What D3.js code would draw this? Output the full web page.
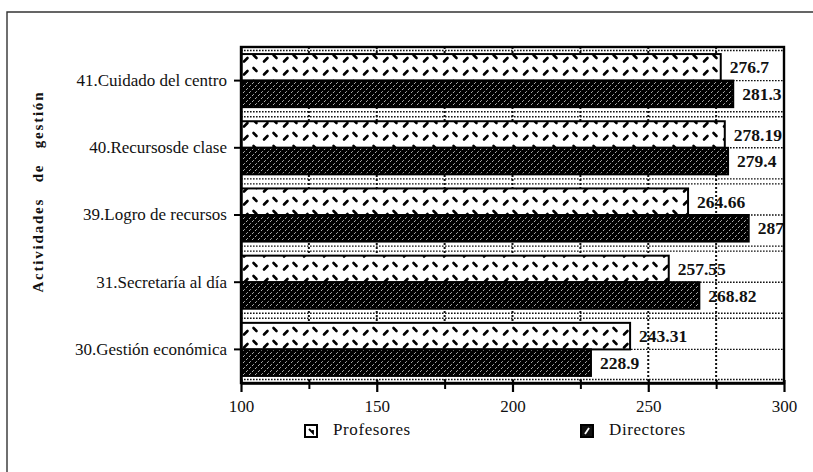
<!DOCTYPE html>
<html>
<head>
<meta charset="utf-8">
<script src="https://cdn.jsdelivr.net/npm/d3@7"></script>
<style>
  html, body { margin: 0; padding: 0; background: #fff; }
  svg { display: block; }
  text { font-family: "Liberation Serif", "Times New Roman", serif; fill: #111; }
</style>
</head>
<body>
<svg id="chart" width="813" height="472"></svg>
<script>
// Management activities: mean scores by respondent group
const categories = [
  "41.Cuidado del centro",
  "40.Recursosde clase",
  "39.Logro de recursos",
  "31.Secretaría al día",
  "30.Gestión económica"
];
const series = ["Profesores", "Directores"];
const profesores = [276.7, 278.19, 264.66, 257.55, 243.31];
const directores = [281.3, 279.4, 287, 268.82, 228.9];
const xTicks = [100, 150, 200, 250, 300];
const yTitle = "Actividades de gestión";

const svg = d3.select("#chart");
const W = 813, H = 472;
const plot = { left: 241, right: 784, top: 47, bottom: 383 };
const serif = "'Liberation Serif', 'Times New Roman', serif";

const x = d3.scaleLinear().domain([xTicks[0], xTicks[xTicks.length - 1]]).range([plot.left, plot.right]);
const y = d3.scaleBand().domain(categories).range([plot.top, plot.bottom])
  .paddingInner(0.21).paddingOuter(0.105);
const sub = d3.scaleBand().domain(series).range([0, y.bandwidth()]);
const minorTicks = d3.pairs(xTicks).map(([a, b]) => (a + b) / 2);
const gridTicks = d3.merge([xTicks.slice(1, -1), minorTicks]);

// fill patterns
const defs = svg.append("defs");
const pProf = defs.append("pattern").attr("id", "pat-prof")
  .attr("patternUnits", "userSpaceOnUse").attr("width", 20).attr("height", 13);
pProf.append("rect").attr("width", 20).attr("height", 13).attr("fill", "#fff");
pProf.append("path").attr("d", "M4,9.5 L7.5,6").attr("stroke", "#000").attr("stroke-width", 2.6).attr("stroke-linecap", "round");
pProf.append("path").attr("d", "M13.5,3 L16.5,6").attr("stroke", "#000").attr("stroke-width", 2.6).attr("stroke-linecap", "round");

const pDir = defs.append("pattern").attr("id", "pat-dir")
  .attr("patternUnits", "userSpaceOnUse").attr("width", 6).attr("height", 6);
pDir.append("rect").attr("width", 6).attr("height", 6).attr("fill", "#000");
pDir.append("path").attr("d", "M0,6 L6,0").attr("stroke", "#fff").attr("stroke-width", 0.7).attr("stroke-dasharray", "2.6 1.6");
pDir.append("path").attr("d", "M-1,1 L1,-1 M5,7 L7,5").attr("stroke", "#fff").attr("stroke-width", 0.7);

const fills = { Profesores: "url(#pat-prof)", Directores: "url(#pat-dir)" };

// outer frame
svg.append("path").attr("d", `M7,${H} L7,12 L${W},12`)
  .attr("fill", "none").attr("stroke", "#333").attr("stroke-width", 1.4);

// rows: one entry per category and series
const rows = categories.flatMap((c, i) => [
  { cat: c, s: "Profesores", v: profesores[i] },
  { cat: c, s: "Directores", v: directores[i] }
]);

// value labels (beneath the grid)
svg.append("g").selectAll("text").data(rows).join("text")
  .attr("x", d => x(d.v) + 9)
  .attr("y", d => y(d.cat) + sub(d.s) + sub.bandwidth() / 2)
  .attr("dy", "0.35em")
  .attr("font-size", 17.5).attr("font-weight", "bold")
  .style("font-family", serif)
  .text(d => String(d.v));

// horizontal grid: category centres and the middle of every gap
const step = y.step();
const gapH = step - y.bandwidth();
const hLines = [];
categories.forEach((c, i) => {
  hLines.push(y(c) + y.bandwidth() / 2);
  if (i > 0) {
    const mid = y(c) - gapH / 2;
    hLines.push(mid - 2.5, mid + 2.5);
  }
});
hLines.push(y(categories[0]) - gapH / 4);
hLines.push(y(categories[categories.length - 1]) + y.bandwidth() + gapH / 4);

const grid = svg.append("g").attr("stroke", "#111").attr("fill", "none");
grid.selectAll("line.h").data(hLines).join("line").attr("class", "h")
  .attr("x1", plot.left).attr("x2", plot.right)
  .attr("y1", d => d).attr("y2", d => d)
  .attr("stroke-width", 1.4).attr("stroke-dasharray", "1.6 1.4");
grid.selectAll("line.v").data(gridTicks).join("line").attr("class", "v")
  .attr("x1", d => x(d)).attr("x2", d => x(d))
  .attr("y1", plot.top).attr("y2", plot.bottom)
  .attr("stroke-width", 2).attr("stroke-dasharray", "2 2");

// bars
svg.append("g").selectAll("rect").data(rows).join("rect")
  .attr("x", x(xTicks[0]))
  .attr("y", d => y(d.cat) + sub(d.s))
  .attr("width", d => x(d.v) - x(xTicks[0]))
  .attr("height", sub.bandwidth())
  .attr("fill", d => fills[d.s])
  .attr("stroke", "#000").attr("stroke-width", 2);

// plot frame
svg.append("rect")
  .attr("x", plot.left).attr("y", plot.top)
  .attr("width", plot.right - plot.left).attr("height", plot.bottom - plot.top)
  .attr("fill", "none").attr("stroke", "#000").attr("stroke-width", 2.4);

// x axis: labelled major ticks and short minor ticks
const xAxis = svg.append("g").attr("transform", `translate(0,${plot.bottom})`)
  .call(d3.axisBottom(x).tickValues(xTicks).tickFormat(d3.format("d")).tickSizeInner(9).tickSizeOuter(0).tickPadding(8));
xAxis.select(".domain").attr("stroke-width", 2.4);
xAxis.selectAll(".tick line").attr("stroke-width", 2.2).attr("y1", -3);
xAxis.selectAll(".tick text").attr("font-size", 17).style("font-family", serif).attr("fill", "#111");
const xMinor = svg.append("g").attr("transform", `translate(0,${plot.bottom})`)
  .call(d3.axisBottom(x).tickValues(minorTicks).tickFormat("").tickSizeInner(6).tickSizeOuter(0));
xMinor.select(".domain").remove();
xMinor.selectAll(".tick line").attr("stroke-width", 2).attr("y1", -3);

// y axis
const yAxis = svg.append("g").attr("transform", `translate(${plot.left},0)`)
  .call(d3.axisLeft(y).tickSizeInner(7).tickSizeOuter(0).tickPadding(7));
yAxis.select(".domain").attr("stroke-width", 2.4);
yAxis.selectAll(".tick line").attr("stroke-width", 2);
yAxis.selectAll(".tick text").attr("font-size", 17).style("font-family", serif).attr("fill", "#111");

// y axis title
svg.append("text")
  .attr("transform", `translate(43,${(92 + 293) / 2}) rotate(-90)`)
  .attr("text-anchor", "middle")
  .attr("font-size", 15).attr("font-weight", "bold")
  .attr("textLength", 200).attr("lengthAdjust", "spacing")
  .style("font-family", serif)
  .style("word-spacing", "10px")
  .text(yTitle);

// legend
const legendX = { Profesores: 305, Directores: 581 };
const lg = svg.append("g").selectAll("g").data(series).join("g")
  .attr("transform", d => `translate(${legendX[d]},425)`);
lg.append("rect").attr("width", 12).attr("height", 12)
  .attr("fill", d => d === "Profesores" ? "#fff" : "#111")
  .attr("stroke", "#000").attr("stroke-width", 2);
lg.append("path")
  .attr("d", d => d === "Profesores" ? "M4,4 L8,8 L8,5" : "M4,9 L8,3")
  .attr("fill", "none")
  .attr("stroke", d => d === "Profesores" ? "#000" : "#fff")
  .attr("stroke-width", 1.8);
lg.append("text").attr("x", 28).attr("y", 10)
  .attr("font-size", 17).attr("letter-spacing", 0.6)
  .style("font-family", serif)
  .text(d => d);
</script>
</body>
</html>
